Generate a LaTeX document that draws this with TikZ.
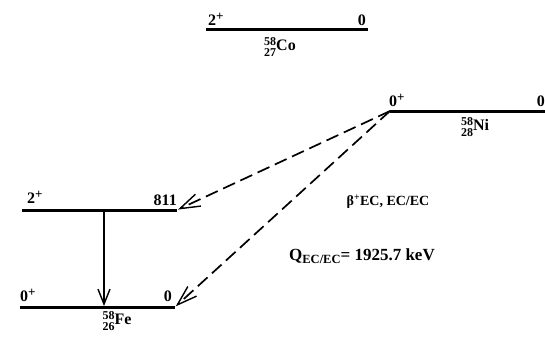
\documentclass[tikz,border=0pt]{standalone}
\usepackage{fontspec}
\setmainfont{Liberation Serif}
\usetikzlibrary{arrows.meta}
\newcommand{\nucl}[3]{\makebox[0pt][l]{\raisebox{0.8ex}{\fontsize{12}{12}\selectfont #1}}\raisebox{-0.8ex}{\fontsize{12}{12}\selectfont #2}#3}
\newcommand{\plusup}{\raisebox{0.55ex}{\fontsize{13}{13}\selectfont +}}
\begin{document}
\begin{tikzpicture}[x=1pt,y=-1pt,
  level/.style={line width=3pt},
  lab/.style={font=\fontsize{16}{16}\selectfont\bfseries, inner sep=0pt},
  decay/.style={dashed, dash pattern=on 13pt off 6pt, line width=1.7pt,
     -{Straight Barb[length=20pt,width=13pt,line width=1.4pt]}, shorten >=1pt},
  gam/.style={line width=1.4pt, -{Straight Barb[length=15pt,width=12pt,line width=1.4pt]}}]
\useasboundingbox (0,0) rectangle (545,340);
% levels
\coordinate (coL) at (206,29); \coordinate (coR) at (368,29);
\coordinate (niL) at (390,111); \coordinate (niR) at (547,111);
\coordinate (fe2L) at (22,210); \coordinate (fe2R) at (177,210);
\coordinate (fe0L) at (20,307); \coordinate (fe0R) at (175,307);
\draw[level] (coL) -- (coR);
\draw[level] (niL) -- (niR);
\draw[level] (fe2L) -- (fe2R);
\draw[level] (fe0L) -- (fe0R);
% labels
\node[lab, anchor=base west] (co2) at (208,25) {2\plusup};
\node[lab, anchor=base east] (co0) at (366,25) {0};
\node[lab] (co) at (280,47) {\nucl{58}{27}{Co}};
\node[lab, anchor=base west] (ni0p) at (389,106) {0\plusup};
\node[lab, anchor=base east] (ni0) at (545,106) {0};
\node[lab] (ni) at (475,127) {\nucl{58}{28}{Ni}};
\node[lab, anchor=base west] (fe2p) at (27,203) {2\plusup};
\node[lab, anchor=base east] (fe811) at (177,205) {811};
\node[lab, anchor=base west] (fe0p) at (20,301) {0\plusup};
\node[lab, anchor=base east] (fe0) at (172,301) {0};
\node[lab] (fe) at (117,321) {\nucl{58}{26}{Fe}};
\node[inner sep=0pt, font=\fontsize{14}{14}\selectfont\bfseries] (mode) at (388,202) {β\textsuperscript{+}EC, EC/EC};
\node[inner sep=0pt, font=\fontsize{17}{17}\selectfont\bfseries] (q) at (362,256) {Q\raisebox{-0.35ex}{\fontsize{12.5}{12.5}\selectfont EC/EC}= 1925.7 keV};
% transitions
\coordinate (g1) at (104,210); \coordinate (g2) at (104,306);
\draw[gam] (g1) -- (g2);
\draw[decay] (niL) -- (fe2R);
\draw[decay] (niL) -- (fe0R);
\end{tikzpicture}
\end{document}
